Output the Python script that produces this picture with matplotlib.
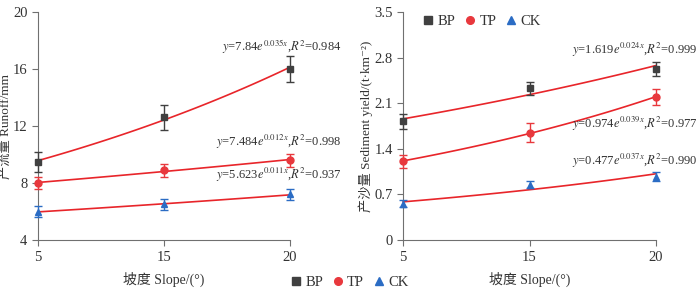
import numpy as np
import matplotlib.pyplot as plt
from matplotlib.lines import Line2D
from matplotlib.ticker import FuncFormatter

plt.rcParams['font.family'] = ['Liberation Serif', 'Noto Sans CJK SC', 'DejaVu Serif']
plt.rcParams['mathtext.fontset'] = 'stix'
plt.rcParams['font.size'] = 10

# 数据
slopes = ['5', '15', '20']
series = ['BP', 'TP', 'CK']

runoff_bp = [9.5, 12.6, 16.0]
runoff_tp = [8.0, 8.9, 9.6]
runoff_ck = [6.0, 6.5, 7.2]
runoff_bp_err = [0.7, 0.9, 0.9]
runoff_tp_err = [0.4, 0.45, 0.45]
runoff_ck_err = [0.4, 0.4, 0.4]

sed_bp = [1.82, 2.33, 2.62]
sed_tp = [1.21, 1.65, 2.19]
sed_ck = [0.56, 0.85, 0.97]
sed_bp_err = [0.12, 0.1, 0.11]
sed_tp_err = [0.1, 0.15, 0.12]
sed_ck_err = [0.05, 0.05, 0.07]

runoff_eq = ['$y$=7.84$e^{0.035x}$,$R^2$=0.984',
             '$y$=7.484$e^{0.012x}$,$R^2$=0.998',
             '$y$=5.623$e^{0.011x}$,$R^2$=0.937']
sed_eq = ['$y$=1.619$e^{0.024x}$,$R^2$=0.999',
          '$y$=0.974$e^{0.039x}$,$R^2$=0.977',
          '$y$=0.477$e^{0.037x}$,$R^2$=0.990']

colors = ['#404040', '#e8383d', '#2b6cc4']
markers = ['s', 'o', '^']
fit_color = '#e8252a'
spine_c = '#707070'
text_c = '#333333'

fig = plt.figure(figsize=(7, 2.9), dpi=100)
ax1 = fig.add_axes([0.054, 0.172, 0.36, 0.787])
ax2 = fig.add_axes([0.576, 0.172, 0.361, 0.787])

pos = np.arange(len(slopes))
xs = np.linspace(0, 2, 100)


def draw(ax, ys, errs, eqs, eq_x, eq_y, ylim, yticks, ylabel):
    for y, e, c, m in zip(ys, errs, colors, markers):
        # 指数拟合曲线
        b, a = np.polyfit(pos, np.log(y), 1)
        ax.plot(xs, np.exp(a + b * xs), color=fit_color, lw=1.2, zorder=2, clip_on=False)
        ax.errorbar(pos, y, yerr=e, fmt=m, color=c, ms=5, capsize=3,
                    elinewidth=1, capthick=1, zorder=3, clip_on=False)
    for t, yy in zip(eqs, eq_y):
        ax.text(eq_x, yy, t, ha='right', va='center', fontsize=9, color=text_c,
                transform=ax.get_yaxis_transform())
    ax.set_xlim(0, 2)
    ax.set_ylim(*ylim)
    ax.set_yticks(yticks)
    ax.yaxis.set_major_formatter(FuncFormatter(lambda v, p: '%g' % v))
    ax.set_xticks(pos)
    ax.set_xticklabels(slopes)
    for s in ['top', 'right']:
        ax.spines[s].set_visible(False)
    for s in ['left', 'bottom']:
        ax.spines[s].set_color(spine_c)
    ax.tick_params(direction='out', length=4, color=spine_c, labelsize=10.5, labelcolor=text_c)
    ax.set_xlabel('坡度 Slope/(°)', fontsize=10, color=text_c, labelpad=6)
    ax.set_ylabel(ylabel, fontsize=9.5, color=text_c, labelpad=1)


draw(ax1, [runoff_bp, runoff_tp, runoff_ck],
     [runoff_bp_err, runoff_tp_err, runoff_ck_err],
     runoff_eq, 1.205, [17.6, 10.9, 8.6], (4, 20), [4, 8, 12, 16, 20],
     '产流量 Runoff/mm')

draw(ax2, [sed_bp, sed_tp, sed_ck],
     [sed_bp_err, sed_tp_err, sed_ck_err],
     sed_eq, 1.165, [2.92, 1.78, 1.21], (0, 3.5), [0, 0.7, 1.4, 2.1, 2.8, 3.5],
     '产沙量 Sediment yield/(t·km⁻²)')

handles = [Line2D([], [], ls='none', marker=m, color=c, ms=5.5)
           for m, c in zip(markers, colors)]
leg_kw = dict(frameon=False, ncol=3, handlelength=0.6, handletextpad=0.35,
              columnspacing=0.7, fontsize=10.5, labelcolor=text_c)
fig.legend(handles, series, loc='center', bbox_to_anchor=(0.5, 0.025), **leg_kw)
ax2.legend(handles, series, loc='upper left', bbox_to_anchor=(0.03, 1.045), **leg_kw)

fig.savefig('out.png', dpi=100)
